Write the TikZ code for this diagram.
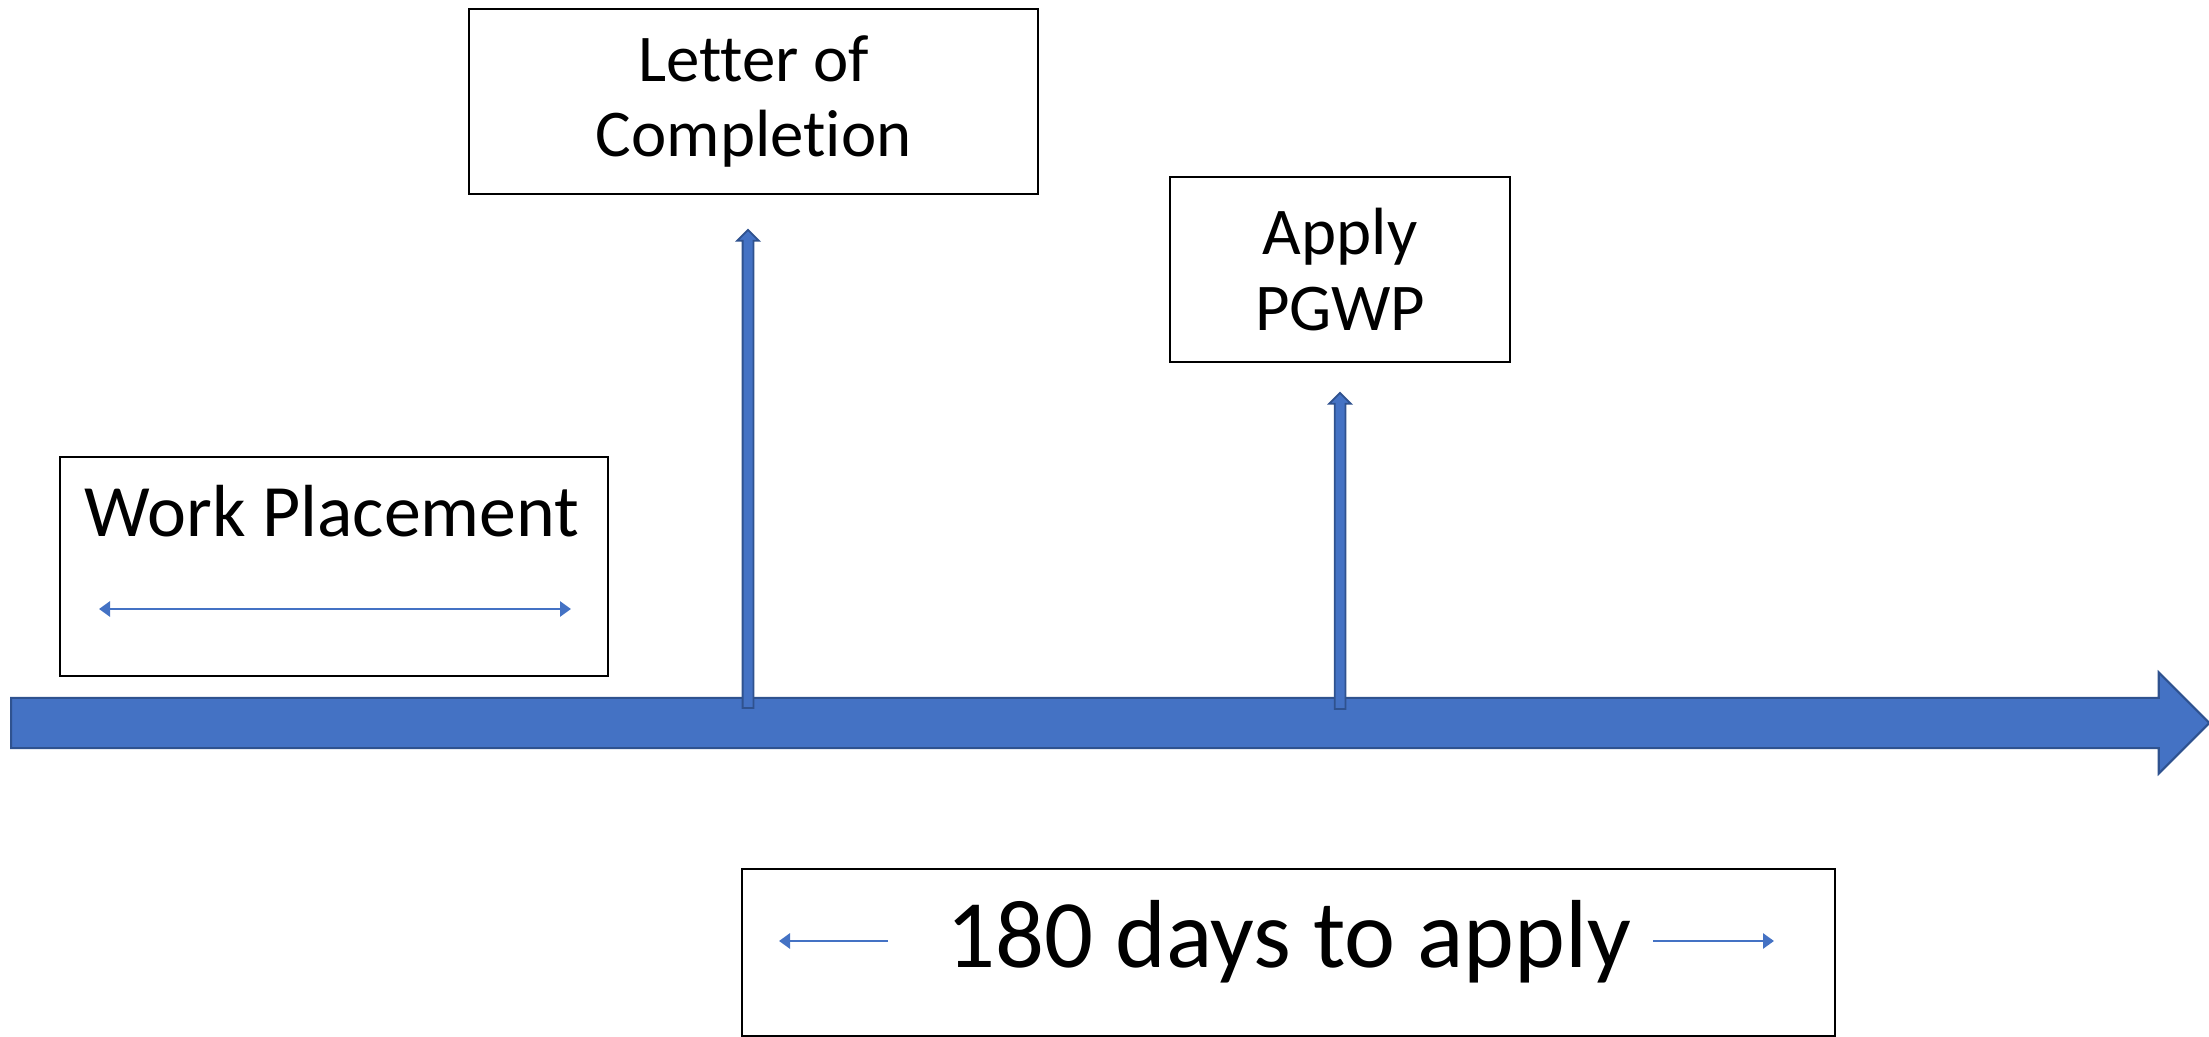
\documentclass[tikz,border=0pt]{standalone}
\usepackage{fontspec}
\setmainfont{Carlito}[Ligatures=NoCommon]
\usetikzlibrary{shapes.arrows,arrows.meta,positioning}
\definecolor{lineblue}{HTML}{4472C4}
\definecolor{edgeblue}{HTML}{2F528F}
\tikzset{box/.style={draw=black, line width=0.6pt, rectangle, anchor=north west, inner sep=0pt, align=center, font=\fontsize{19}{21.5}\selectfont},
  timeline/.style={single arrow, draw=edgeblue, fill=lineblue, line width=0.6pt, inner xsep=0pt, inner ysep=0.24cm, anchor=tail, single arrow head extend=0.255cm},
  marker/.style={single arrow, draw=edgeblue, fill=lineblue, line width=0.5pt, inner xsep=0pt, inner ysep=0.045cm, anchor=tail, rotate=90, single arrow head extend=0.055cm},
  span/.style={draw=lineblue, line width=0.8pt, >={Triangle[length=0.11cm,width=0.15cm]}}}

\begin{document}
\begin{tikzpicture}[x=0.01cm, y=-0.01cm]
    \useasboundingbox (0,0) rectangle (2209,1037);
    \node[timeline, minimum height=21.97cm] (axis) at (10,723) {};
    \node[box, minimum width=5.48cm, minimum height=2.19cm] (work) at (59,456) {};
    \node[font=\fontsize{21}{25}\selectfont, anchor=base] (worklabel) at (332,537) {Work Placement};
    \coordinate (ws) at (99,609);
    \coordinate (we) at (571,609);
    \draw[span,<->] (ws) -- (we);
    \node[box, minimum width=5.69cm, minimum height=1.85cm] (letter) at (468,8) {Letter of\\Completion};
    \node[box, minimum width=3.40cm, minimum height=1.85cm] (apply) at (1169,176) {Apply\\PGWP};
    \coordinate (loc) at (748,709);
    \coordinate (pgwp) at (1340,710);
    \node[marker, minimum height=4.78cm] (locarrow) at (loc) {};
    \node[marker, minimum height=3.16cm] (pgwparrow) at (pgwp) {};
    \node[box, minimum width=10.92cm, minimum height=1.67cm] (days) at (741,868) {};
    \node[font=\fontsize{27.5}{32}\selectfont, anchor=base] (dayslabel) at (1289,967) {180 days to apply};
    \coordinate (dl1) at (888,941);
    \coordinate (dl2) at (779,941);
    \coordinate (dr1) at (1653,941);
    \coordinate (dr2) at (1774,941);
    \draw[span,->] (dl1) -- (dl2);
    \draw[span,->] (dr1) -- (dr2);
\end{tikzpicture}
\end{document}
